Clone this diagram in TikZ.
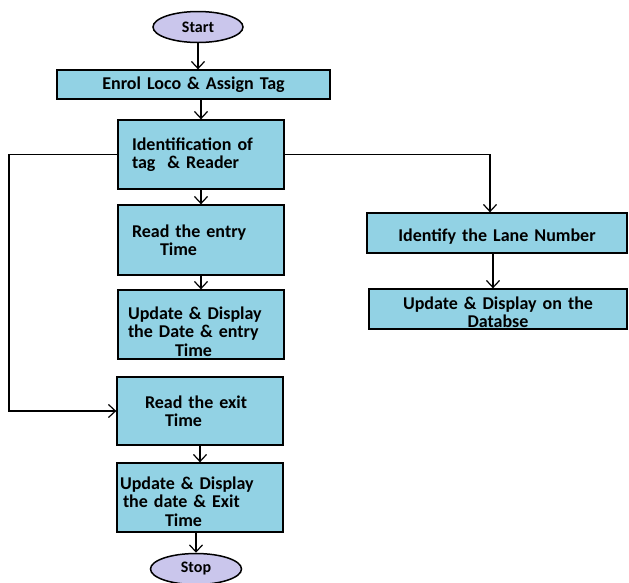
\documentclass[tikz,border=0pt]{standalone}
\usepackage{fontspec}
\setmainfont{Carlito}
\usepackage{xcolor}
\usepackage{tikz}
\usetikzlibrary{shapes.geometric, arrows.meta, positioning}
\definecolor{boxblue}{RGB}{146,210,228}
\definecolor{lavender}{RGB}{202,198,236}
\tikzset{
    box/.style={rectangle, draw, line width=1.3pt, fill=boxblue, minimum width=166pt, minimum height=69pt, text width=150pt, inner xsep=8pt, align=left, font=\bfseries\fontsize{18}{18.5}\selectfont},
    terminal/.style={ellipse, draw, line width=1.5pt, fill=lavender, minimum width=90pt, minimum height=31pt, inner sep=0pt, font=\bfseries\fontsize{16}{18}\selectfont},
    flow/.style={-{Straight Barb[length=7pt,width=13pt]}, line width=1.2pt}
}

\begin{document}
\begin{tikzpicture}[x=1pt, y=-1pt]
    \useasboundingbox (0,0) rectangle (629,582);
    % Main column
    \node[terminal] (start) at (198,27) {Start};
    \node[box, minimum width=273pt, minimum height=29pt, text width=257pt, align=center] (enrol_tag) at (193.5,84.5) {Enrol Loco \& Assign Tag};
    \node[box] (ident) at (201,154.5) {\hspace*{6pt}Identification of\\\hspace*{6pt}tag~ \& Reader};
    \node[box, minimum height=70pt] (read_entry) at (201,240) {\hspace*{6pt}Read the entry\\\hspace*{34pt}Time};
    \node[box, text depth=23pt] (upd_entry) at (201,324.5) {\hspace*{2pt}Update \& Display\\\hspace*{2pt}the Date \& entry\\\hspace*{49pt}Time};
    \node[box, minimum height=68pt] (read_exit) at (200,411) {\hspace*{20pt}Read the exit\\\hspace*{40pt}Time};
    \node[box, text depth=29pt] (upd_exit) at (200,497.5) {\hspace*{-5pt}Update \& Display\\\hspace*{-2pt}the date \& Exit\\\hspace*{40pt}Time};
    \node[terminal, minimum width=91pt, minimum height=31pt] (stop) at (196,569) {Stop};
    % Lane branch
    \node[box, minimum width=260pt, minimum height=40pt, text width=244pt, align=center, text depth=0pt, text height=16pt] (lane) at (497,233) {Identify the Lane Number};
    \node[box, minimum width=258pt, minimum height=40pt, text width=242pt, align=center, text depth=12.5pt] (db) at (498,309) {Update \& Display on the\\Databse};
    \coordinate (loop_x) at (9,0);

    % Flows
    \draw[flow] (start.south) -- (start.south |- enrol_tag.north);
    \draw[flow] (ident.north |- enrol_tag.south) -- (ident.north);
    \draw[flow] (ident) -- (read_entry);
    \draw[flow] (read_entry) -- (upd_entry);
    \draw[flow] (read_exit) -- (upd_exit);
    \draw[flow] (stop.north |- upd_exit.south) -- (stop.north);

    % Exit loop and lane branch
    \draw[flow] (ident.west) -- (ident.west -| loop_x) |- (read_exit.west);
    \draw[flow] (ident.east) -| ([xshift=-7pt]lane.north);
    \draw[flow] ([xshift=-4pt]lane.south) -- ([xshift=-4pt]lane.south |- db.north);
\end{tikzpicture}
\end{document}
